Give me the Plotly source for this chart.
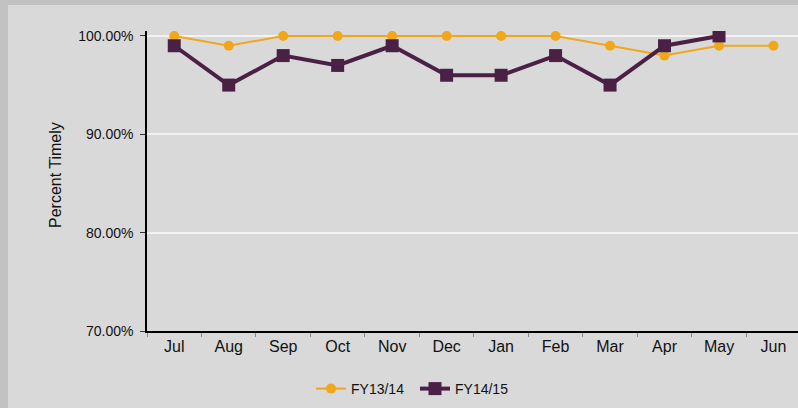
import plotly.graph_objects as go

months = ["Jul", "Aug", "Sep", "Oct", "Nov", "Dec", "Jan", "Feb", "Mar", "Apr", "May", "Jun"]
fy1314 = [1.00, 0.99, 1.00, 1.00, 1.00, 1.00, 1.00, 1.00, 0.99, 0.98, 0.99, 0.99]
fy1415 = [0.99, 0.95, 0.98, 0.97, 0.99, 0.96, 0.96, 0.98, 0.95, 0.99, 1.00]
y_ticks = [0.70, 0.80, 0.90, 1.00]

W, H = 798, 408
L, R, T, B = 147, 0, 31, 77
pw, ph = W - L - R, H - T - B

fig = go.Figure()
fig.add_trace(go.Scatter(
    x=months, y=fy1314, name="FY13/14", mode="lines+markers",
    line=dict(color="#F2A71B", width=2),
    marker=dict(symbol="circle", size=10, color="#F2A71B"),
))
fig.add_trace(go.Scatter(
    x=months[:len(fy1415)], y=fy1415, name="FY14/15", mode="lines+markers",
    line=dict(color="#4A2145", width=4),
    marker=dict(symbol="square", size=13, color="#4A2145"),
))

fig.add_shape(type="rect", xref="paper", yref="paper",
              x0=(8 - L) / pw, x1=1.05, y0=-(B + 5) / ph, y1=(T - 5) / ph + 1,
              fillcolor="#D9D9D9", line=dict(width=0), layer="below")

fig.add_annotation(text="Percent Timely", textangle=-90, showarrow=False,
                   xref="paper", yref="paper", x=(55 - L) / pw, y=(331 - 175) / ph,
                   xanchor="center", yanchor="middle", font=dict(size=16))

fig.update_layout(
    width=W, height=H,
    margin=dict(l=L, r=R, t=T, b=B),
    paper_bgcolor="#C2C2C2",
    plot_bgcolor="rgba(0,0,0,0)",
    font=dict(family="Liberation Sans, Arial, sans-serif", size=13, color="#111111"),
    showlegend=True,
    legend=dict(orientation="h", x=(311 - L) / pw, xanchor="left", y=-(389 - 331) / ph,
                yanchor="middle", bgcolor="rgba(0,0,0,0)", font=dict(size=14),
                itemwidth=30, tracegroupgap=0, entrywidth=59, entrywidthmode="pixels"),
    xaxis=dict(
        type="category", categoryorder="array", categoryarray=months,
        range=[-0.5, 11.45], showgrid=False, zeroline=False,
        showline=True, linecolor="#000000", linewidth=1.5,
        ticks="outside", ticklen=4, tickcolor="#8a8a8a", tickson="boundaries",
        tickfont=dict(size=16),
    ),
    yaxis=dict(
        range=[0.70, 1.005], tickvals=y_ticks, tickformat=".2%",
        showgrid=True, gridcolor="#F2F2F2", gridwidth=1.5, zeroline=False,
        showline=True, linecolor="#000000", linewidth=1.5,
        ticks="outside", ticklen=5, tickcolor="#333333",
        tickfont=dict(size=14), ticklabelstandoff=4,
    ),
)

fig.write_html("out.html", config={"displayModeBar": False},
               post_script="document.body.style.margin='0px';document.body.style.background='#C2C2C2';")
